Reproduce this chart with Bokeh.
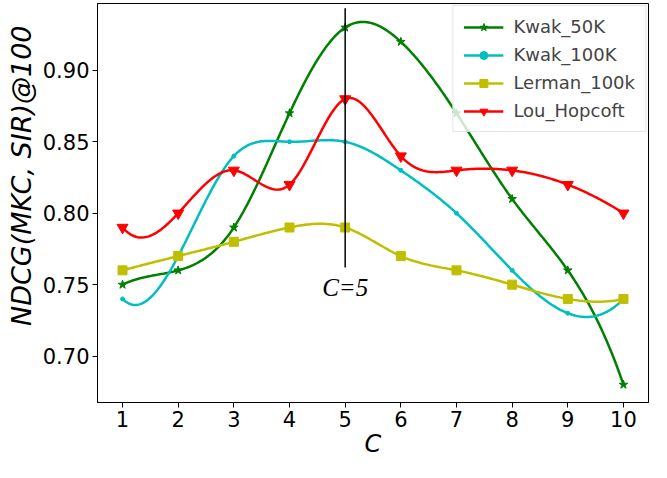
import numpy as np
from bokeh.plotting import figure
from bokeh.models import Range1d, FixedTicker, Legend, Title, CustomJSTickFormatter
from bokeh.core.properties import value
from bokeh.embed import file_html
from bokeh.resources import INLINE

C = [1, 2, 3, 4, 5, 6, 7, 8, 9, 10]
kwak_50k = [0.75, 0.76, 0.79, 0.87, 0.93, 0.92, 0.87, 0.81, 0.76, 0.68]
kwak_100k = [0.74, 0.77, 0.84, 0.85, 0.85, 0.83, 0.80, 0.76, 0.73, 0.74]
lerman_100k = [0.76, 0.77, 0.78, 0.79, 0.79, 0.77, 0.76, 0.75, 0.74, 0.74]
lou_hopcoft = [0.79, 0.80, 0.83, 0.82, 0.88, 0.84, 0.83, 0.83, 0.82, 0.80]
y_ticks = [0.70, 0.75, 0.80, 0.85, 0.90]
vline_x = 5
vline_y = [0.762, 0.9434]
note_text = "C=5"
note_y = 0.748


def not_a_knot_spline(x, y, num=300):
    x = np.asarray(x, float)
    y = np.asarray(y, float)
    n = len(x)
    h = np.diff(x)
    A = np.zeros((n, n))
    b = np.zeros(n)
    A[0, 0], A[0, 1], A[0, 2] = h[1], -(h[0] + h[1]), h[0]
    A[-1, -3], A[-1, -2], A[-1, -1] = h[-1], -(h[-2] + h[-1]), h[-2]
    for i in range(1, n - 1):
        A[i, i - 1] = h[i - 1]
        A[i, i] = 2 * (h[i - 1] + h[i])
        A[i, i + 1] = h[i]
        b[i] = 6 * ((y[i + 1] - y[i]) / h[i] - (y[i] - y[i - 1]) / h[i - 1])
    M = np.linalg.solve(A, b)
    t = np.linspace(x[0], x[-1], num)
    idx = np.clip(np.searchsorted(x, t) - 1, 0, n - 2)
    x0, x1 = x[idx], x[idx + 1]
    hh = x1 - x0
    s = (M[idx] * (x1 - t) ** 3 / (6 * hh) + M[idx + 1] * (t - x0) ** 3 / (6 * hh)
         + (y[idx] / hh - M[idx] * hh / 6) * (x1 - t)
         + (y[idx + 1] / hh - M[idx + 1] * hh / 6) * (t - x0))
    return t, s


p = figure(width=651, height=462, output_backend="svg", toolbar_location=None,
           x_range=Range1d(0.55, 10.45), y_range=Range1d(0.6675, 0.9468),
           min_border_left=97, min_border_right=3, min_border_top=3, min_border_bottom=60)
p.grid.visible = False
p.outline_line_color = "black"
p.outline_line_width = 1
p.background_fill_color = "white"
p.border_fill_color = "white"

FONT = "DejaVu Sans"
for ax in (p.xaxis[0], p.yaxis[0]):
    ax.major_label_text_font = FONT
    ax.major_label_text_font_size = "21px"
    ax.major_label_text_color = "black"
    ax.axis_label_text_font = FONT
    ax.axis_label_text_font_style = "italic"
    ax.axis_label_text_font_size = "24px"
    ax.axis_label_text_color = "black"
    ax.minor_tick_line_color = None
    ax.major_tick_out = 5
    ax.major_tick_in = 0
    ax.major_tick_line_color = "black"
    ax.axis_line_color = "black"
    ax.major_label_standoff = 3
p.xaxis.ticker = FixedTicker(ticks=C)
p.yaxis.ticker = FixedTicker(ticks=y_ticks)
p.yaxis.formatter = CustomJSTickFormatter(code="return tick.toFixed(2);")
p.xaxis.axis_label = "C"
p.xaxis.axis_label_standoff = 0

ylab = Title(text="NDCG(MKC, SIR)@100", align="right", offset=22, standoff=6,
             text_font=FONT, text_font_style="italic", text_font_size="27px",
             text_color="black")
p.add_layout(ylab, "left")

series = [
    ("Kwak_50K", kwak_50k, "#008000", "star", 9),
    ("Kwak_100K", kwak_100k, "#00bfbf", "circle", 4),
    ("Lerman_100k", lerman_100k, "#bfbf00", "square", 9),
    ("Lou_Hopcoft", lou_hopcoft, "#ff0000", "inverted_triangle", 11),
]

items = []
for name, ys, color, marker, size in series:
    xs, ss = not_a_knot_spline(C, ys)
    r1 = p.line(xs, ss, line_color=color, line_width=2.5)
    r2 = p.scatter(C, ys, marker=marker, size=size, fill_color=color, line_color=color)
    items.append((name, [r1, r2]))

p.segment(x0=[vline_x], y0=[vline_y[0]], x1=[vline_x], y1=[vline_y[1]],
          line_color="black", line_width=1.5)
p.text(x=[vline_x], y=[note_y], text=[note_text], text_font=value("Liberation Serif"),
       text_font_style="italic", text_font_size="25px", text_align="center",
       text_baseline="middle", text_color="black")

legend = Legend(items=items, location="top_right")
legend.label_text_font = FONT
legend.label_text_font_size = "18px"
legend.glyph_width = 40
legend.glyph_height = 20
legend.label_height = 20
legend.label_standoff = 10
legend.spacing = 7
legend.padding = 10
legend.margin = 2
legend.border_line_color = "#cccccc"
legend.border_line_width = 1
legend.background_fill_alpha = 0.8
p.add_layout(legend, "center")

open("out.html", "w").write(file_html(p, INLINE))
